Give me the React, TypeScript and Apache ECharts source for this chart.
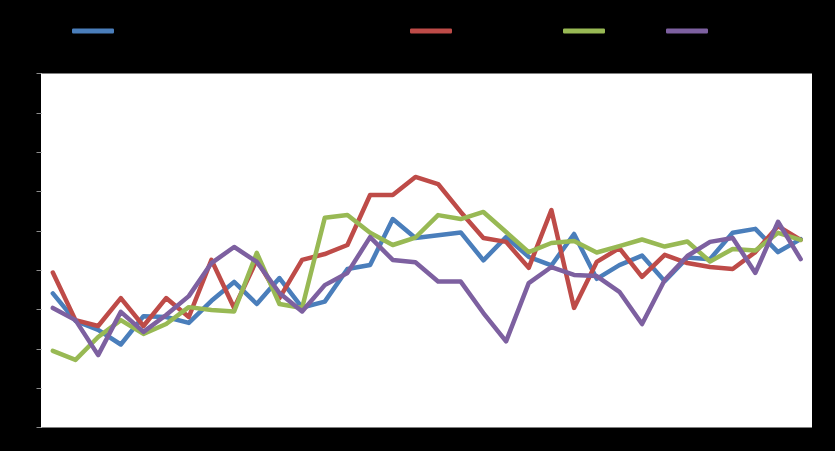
import React, { useEffect, useRef } from "react";
import * as echarts from "echarts";

const categories = Array.from({ length: 34 }, (_, i) => String(i + 1));
const seriesNames = ["Series 1", "Series 2", "Series 3", "Series 4"];
const blueValues = [34.1, 27.1, 24.8, 21.1, 28.3, 28.1, 26.6, 32.2, 37.0, 31.4, 38.0, 30.5, 32.0, 40.3, 41.3, 53.0, 48.2, 48.9, 49.6, 42.5, 48.4, 43.4, 41.2, 49.2, 37.8, 41.3, 43.7, 37.2, 43.2, 42.8, 49.5, 50.5, 44.6, 47.9];
const redValues = [39.4, 27.3, 25.8, 32.9, 25.8, 32.9, 28.1, 42.6, 30.4, 42.6, 32.9, 42.6, 44.1, 46.4, 59.1, 59.1, 63.7, 61.9, 54.8, 48.2, 47.2, 40.6, 55.3, 30.4, 42.1, 45.6, 38.3, 43.9, 41.8, 40.8, 40.3, 44.6, 51.2, 47.7];
const greenValues = [19.5, 17.2, 23.0, 27.3, 23.8, 26.3, 30.6, 29.9, 29.5, 44.4, 31.4, 30.4, 53.3, 54.0, 49.5, 46.4, 48.3, 54.0, 53.0, 54.8, 49.7, 44.6, 46.9, 47.4, 44.5, 46.1, 47.8, 46.0, 47.3, 42.2, 45.4, 45.0, 49.5, 47.7];
const purpleValues = [30.4, 27.3, 18.4, 29.4, 24.3, 28.6, 33.4, 41.8, 45.9, 42.1, 34.2, 29.5, 36.2, 39.3, 48.4, 42.6, 42.0, 37.1, 37.1, 29.1, 21.9, 36.7, 40.8, 38.8, 38.5, 34.5, 26.3, 37.5, 43.6, 47.2, 48.2, 39.3, 52.3, 42.8];
const yMin = 0;
const yMax = 90;
const yInterval = 10;

const colors = ["#4a7ebb", "#be4b48", "#98b954", "#7d60a0"];
const legendLefts = [67, 405, 558, 661];

export default function App() {
  const ref = useRef<HTMLDivElement>(null);
  useEffect(() => {
    document.body.style.margin = "0";
    document.body.style.background = "#000";
    const chart = echarts.init(ref.current!, null, { renderer: "svg" });
    const allValues = [blueValues, redValues, greenValues, purpleValues];
    chart.setOption({
      animation: false,
      backgroundColor: "#000000",
      color: colors,
      legend: seriesNames.map((n, i) => ({
        data: [n],
        left: legendLefts[i],
        top: 20,
        icon: "roundRect",
        itemWidth: 42,
        itemHeight: 5,
        itemGap: 6,
        textStyle: { color: "#000000", fontSize: 12, fontFamily: "Liberation Sans" },
      })),
      grid: {
        left: 41.5,
        right: 23,
        top: 73.5,
        bottom: 23.5,
        show: true,
        backgroundColor: "#ffffff",
        borderWidth: 0,
      },
      xAxis: {
        type: "category",
        data: categories,
        boundaryGap: true,
        axisLine: { show: false },
        axisTick: { show: false },
        axisLabel: { color: "#000000", fontSize: 11 },
        splitLine: { show: false },
      },
      yAxis: {
        type: "value",
        min: yMin,
        max: yMax,
        interval: yInterval,
        axisLine: { show: true, lineStyle: { color: "#ffffff", width: 1 } },
        axisTick: { show: true, length: 5, lineStyle: { color: "#8c8c8c" } },
        axisLabel: { color: "#000000", fontSize: 11 },
        splitLine: { show: false },
      },
      series: seriesNames.map((n, i) => ({
        name: n,
        type: "line",
        data: allValues[i],
        showSymbol: false,
        symbol: "none",
        lineStyle: { width: 4.5, color: colors[i], cap: "round", join: "round" },
        itemStyle: { color: colors[i] },
      })),
    });
    return () => chart.dispose();
  }, []);
  return <div ref={ref} style={{ width: 835, height: 451 }} />;
}
